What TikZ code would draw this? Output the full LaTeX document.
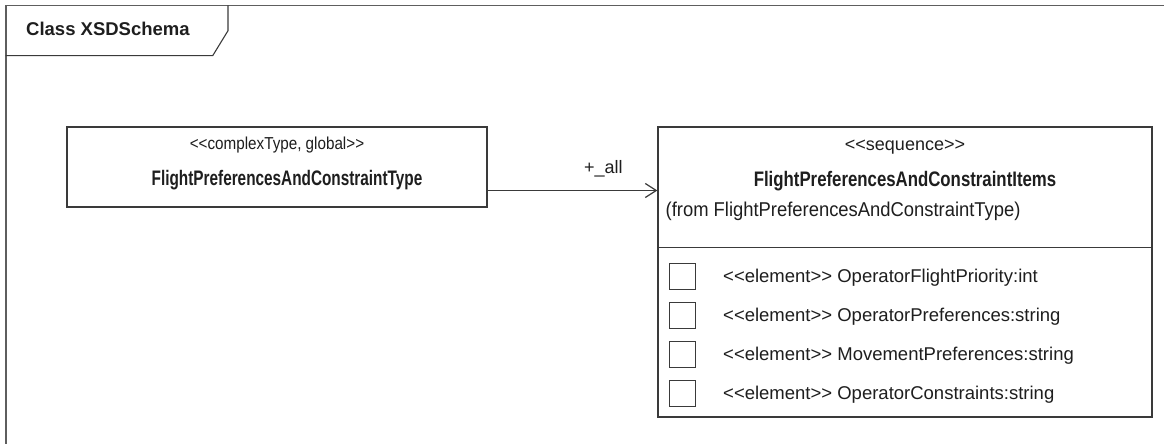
\documentclass[tikz,border=0pt]{standalone}
\usepackage{fontspec}
\setmainfont{Liberation Sans}
\usepackage{tikz}
\usetikzlibrary{arrows.meta,positioning,calc}
\definecolor{linec}{HTML}{3A3A3A}
\definecolor{framec}{HTML}{5E5E5E}
\definecolor{textc}{HTML}{1E1E1E}
\tikzset{
  >={Straight Barb[length=11pt,width=14pt,line width=1.2pt]},
  umlbox/.style={draw=linec,line width=1.2pt,fill=white,inner sep=0pt},
  chk/.style={draw=linec,line width=1pt,minimum width=26pt,minimum height=26pt,inner sep=0pt},
  txt/.style={text=textc,inner sep=0pt},
  ttl/.style={txt,anchor=base west,font=\fontsize{18.5}{22}\selectfont\bfseries},
  lst/.style={txt,anchor=base,font=\fontsize{17.3}{20}\selectfont\addfontfeatures{FakeStretch=0.88}},
  lnm/.style={txt,anchor=base,font=\fontsize{21}{24}\selectfont\bfseries\addfontfeatures{FakeStretch=0.73}},
  rst/.style={txt,anchor=base,font=\fontsize{18}{21}\selectfont},
  rnm/.style={txt,anchor=base,font=\fontsize{21}{24}\selectfont\bfseries\addfontfeatures{FakeStretch=0.8}},
  frm/.style={txt,anchor=base west,font=\fontsize{20}{23}\selectfont\addfontfeatures{FakeStretch=0.92}},
  elt/.style={txt,anchor=base west,font=\fontsize{18.5}{22}\selectfont},
  lbl/.style={txt,anchor=base west,font=\fontsize{18}{21}\selectfont},
  frame/.style={draw=framec,line width=1.6pt},
  tab/.style={draw=linec,line width=1.1pt},
  assoc/.style={->,draw=linec,line width=1.2pt},
}
\newcommand{\stereo}[1]{<\kern0pt<#1>\kern0pt>}

\begin{document}
\begin{tikzpicture}[x=1pt,y=-1pt]
  \useasboundingbox (0,0) rectangle (1164,444);
  % diagram frame and title tab
  \draw[frame] (1164,5.5) -| (5.7,444);
  \draw[tab] (5.7,55.7) -- (212.7,55.7) -- (228,30.7) -- (228,5.5);
  \node[ttl] (title) at (26,36) {Class XSDSchema};
  % complex type
  \node[umlbox,minimum width=420pt,minimum height=80pt] (ctype) at (277,167) {};
  \node[lst] (ctype-st) at (277,149) {\stereo{complexType, global}};
  \node[lnm] (ctype-nm) at (287,185) {FlightPreferencesAndConstraintType};
  % sequence
  \node[umlbox,minimum width=494pt,minimum height=290pt] (seq) at (905,272) {};
  \node[rst] (seq-st) at (905,150) {\stereo{sequence}};
  \node[rnm] (seq-nm) at (905,186) {FlightPreferencesAndConstraintItems};
  \node[frm] (seq-from) at (665.5,216) {(from FlightPreferencesAndConstraintType)};
  \coordinate (sep) at (0,247.7);
  \draw[umlbox] (seq.west |- sep) -- (seq.east |- sep);
  \foreach \el [count=\k from 0] in {OperatorFlightPriority:int,OperatorPreferences:string,MovementPreferences:string,OperatorConstraints:string} {
    \node[chk] (chk-\k) at (682,276.2+\k*39.1) {};
    \node[elt] (el-\k) at (723,282.6+\k*39.1) {\stereo{element} \el};
  }
  % association
  \coordinate (arw) at (0,190.5);
  \draw[assoc] (ctype.east |- arw) -- (seq.west |- arw);
  \node[lbl] (all) at (584,173.5) {+\_all};
\end{tikzpicture}
\end{document}
